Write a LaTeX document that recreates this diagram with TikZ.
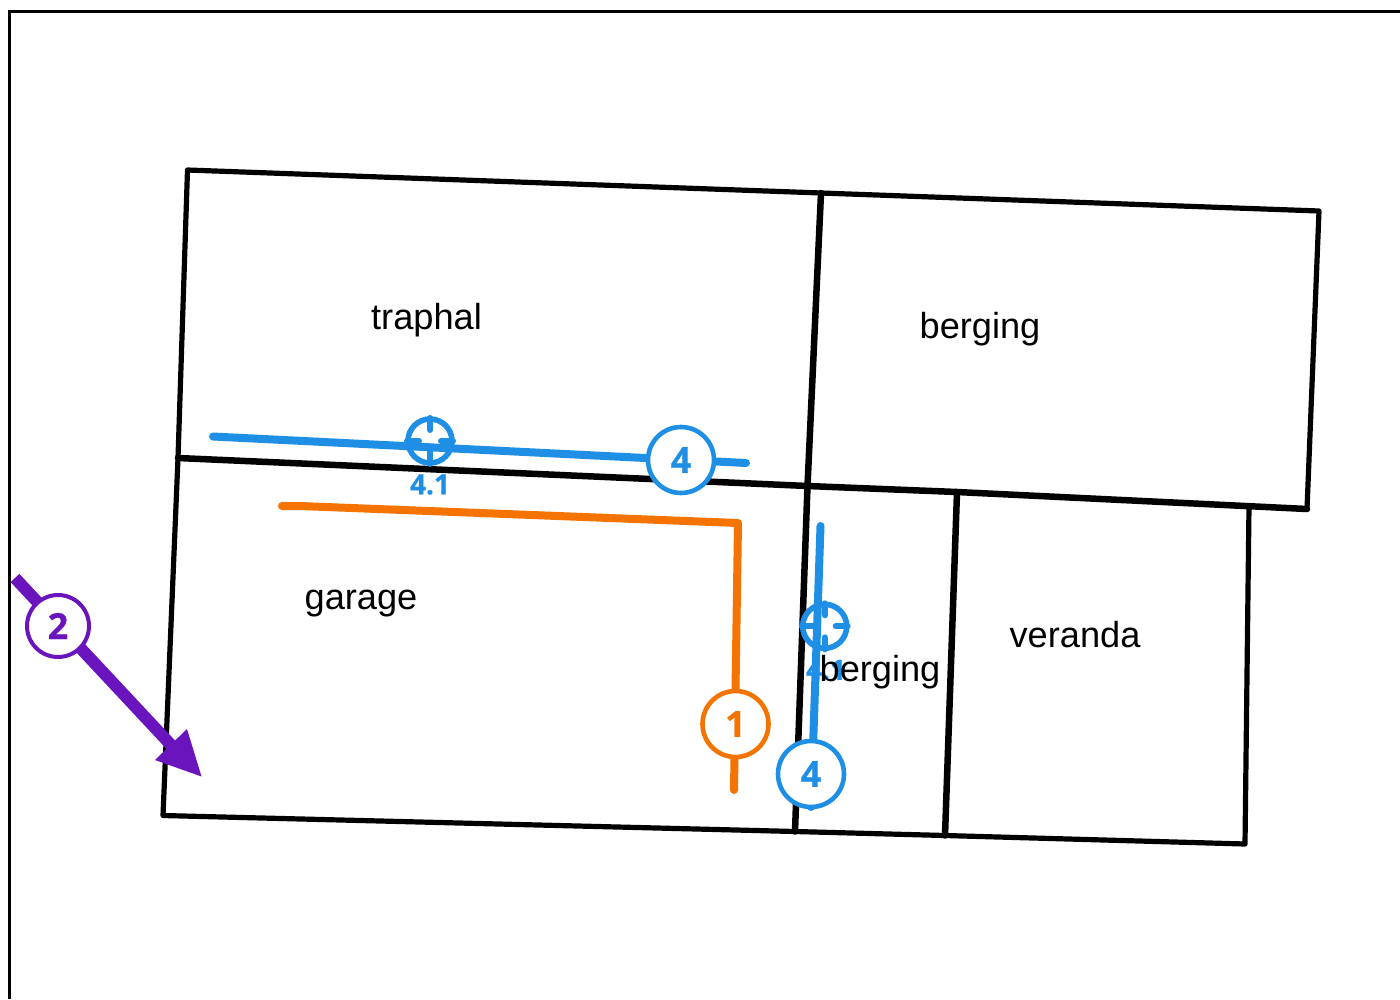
\documentclass[tikz,border=0pt]{standalone}
\usepackage{fontspec}
\setmainfont{Liberation Sans}
\newfontfamily\badgefont[BoldFeatures={FakeBold=0.6}]{Open Sans}
\definecolor{bluec}{HTML}{1F8FE5}
\definecolor{orangec}{HTML}{F57300}
\definecolor{purplec}{HTML}{6A14BE}
\tikzset{
  wall/.style={draw=black,line width=5.2pt,line cap=round,line join=round},
  thickwall/.style={wall,line width=6.5pt},
  route/.style={line width=8pt,line cap=round,line join=round},
  room/.style={font=\fontsize{36.2}{36}\selectfont,text=black,inner sep=0pt},
  badge/.style={circle,fill=white,line width=4.6pt,minimum size=66pt,inner sep=0pt,font=\badgefont\bfseries\fontsize{36}{36}\selectfont},
  ring/.style={circle,line width=5.6pt,minimum size=44pt,inner sep=0pt},
  tick/.style={line width=6pt,line cap=round},
  sublabel/.style={font=\badgefont\bfseries\fontsize{28}{28}\selectfont,text=bluec,inner sep=0pt}
}
\begin{document}
\begin{tikzpicture}[x=1pt,y=-1pt]
\useasboundingbox (0,0) rectangle (1400,999);
\draw[line width=2.5pt] (9.5,999) -- (9.5,11.5) -- (1400,11.5);
% walls
\coordinate (a) at (187.5,170); \coordinate (b) at (821,193); \coordinate (c) at (1319,211);
\coordinate (d) at (1307,509); \coordinate (e) at (1249,506); \coordinate (f) at (957,492);
\coordinate (g) at (807.5,486); \coordinate (h) at (178,458); \coordinate (i) at (163,815.5);
\coordinate (j) at (795,831.5); \coordinate (k) at (945,835.5); \coordinate (l) at (1245,844);
\draw[wall] (h) -- (a) -- (b) -- (c) -- (d);
\draw[wall] (h) -- (i) -- (j) -- (k) -- (l) -- (e);
\draw[thickwall] (h) -- (g) -- (f) -- (d);
\draw[thickwall] (b) -- (g) -- (j);
\draw[thickwall] (f) -- (k);
% blue routes
\coordinate (r1a) at (213,436.5); \coordinate (r1b) at (746,463);
\draw[route,bluec] (r1a) -- (r1b);
\coordinate (r2a) at (820.5,526); \coordinate (r2b) at (811,807);
\draw[route,bluec] (r2a) -- (r2b);
% orange route
\coordinate (o1) at (282,506); \coordinate (o2) at (300,506); \coordinate (o3) at (738,523); \coordinate (o4) at (734,790);
\draw[route,orangec] (o1) -- (o2) -- (o3) -- (o4);
% purple arrow
\coordinate (p1) at (15,578); \coordinate (p2) at (172,746); \coordinate (pt) at (201.5,776.5);
\coordinate (pl) at (155,760); \coordinate (pr) at (187,729);
\draw[purplec,line width=12pt] (p1) -- (p2);
\fill[purplec] (pt) -- (pl) -- (pr) -- cycle;
% crosshairs
\node[ring,draw=bluec] (x1) at (430,441) {};
\draw[tick,bluec] (430,418) -- (430,430) (430,452) -- (430,464) (407,441) -- (419,441) (441,441) -- (453,441);
\node[sublabel] (l1) at (430,484.5) {4.1};
\node[ring,draw=bluec] (x2) at (824.7,626.3) {};
\draw[tick,bluec] (824.7,603.3) -- (824.7,615.3) (824.7,637.3) -- (824.7,649.3) (801.7,626.3) -- (813.7,626.3) (835.7,626.3) -- (847.7,626.3);
\node[sublabel] (l2) at (826,670) {4.1};
% badges
\node[badge,draw=bluec,text=bluec] (b1) at (681,460) {4};
\node[badge,draw=bluec,text=bluec] (b2) at (811,774) {4};
\node[badge,draw=orangec,text=orangec] (b3) at (735.5,724) {1};
\node[badge,draw=purplec,text=purplec,minimum size=62pt,line width=4pt] (b4) at (58,626) {2};
% labels
\node[room] (t1) at (426.5,320) {traphal};
\node[room] (t2) at (980,329) {berging};
\node[room] (t3) at (361,604) {garage};
\node[room] (t4) at (880,672) {berging};
\node[room] (t5) at (1075,635) {veranda};
\end{tikzpicture}
\end{document}
